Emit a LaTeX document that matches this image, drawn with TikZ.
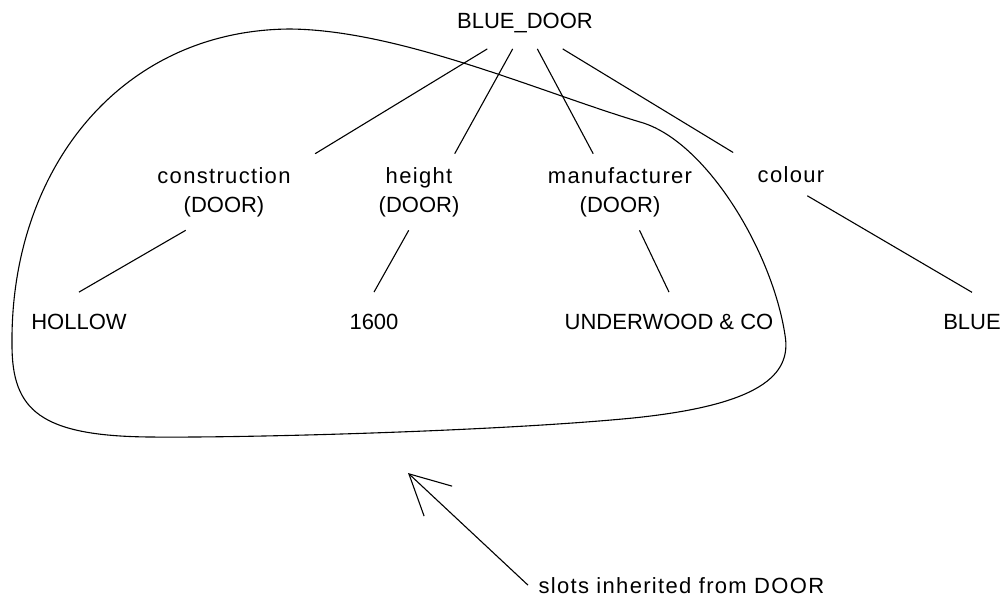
\documentclass[tikz,border=0pt]{standalone}
\usepackage{fontspec}
\setmainfont{Liberation Sans}
\newfontfamily\widefont[LetterSpace=6]{Liberation Sans}
\usetikzlibrary{arrows.meta}

\begin{document}
\begin{tikzpicture}[x=1pt,y=-1pt,line width=1.1pt,font=\fontsize{22}{29}\selectfont]
    %
    % `frame' is the frame name at the top.
    % `slot' is used for the slot names (with the frame they come from).
    % `value' is used for the slot fillers.
    % `note' is used for the comment under the picture.
    \tikzstyle{frame} = [inner sep=16pt,anchor=base]
    \tikzstyle{slot} = [align=center,inner xsep=24pt,inner ysep=13pt]
    \tikzstyle{value} = [inner sep=21pt,anchor=base]
    \tikzstyle{note} = [inner sep=10pt,anchor=base west,font=\widefont\fontsize{22}{29}\selectfont]
    %
    \useasboundingbox (0,0) rectangle (1005,598);
    %
    % Frame
    \node[frame] (bluedoor) at (525,28) {BLUE\_DOOR};
    %
    % Slots
    \node[slot] (construction) at (224,192) {{\widefont construction}\\(DOOR)};
    \node[slot] (height) at (419,192) {{\widefont height}\\(DOOR)};
    \node[slot] (manufacturer) at (620,192) {{\widefont manufacturer}\\(DOOR)};
    \node[slot,anchor=base] (colour) at (791,182) {\widefont colour};
    \draw (bluedoor.215) -- (construction.north east);
    \draw (bluedoor.245) -- (height.47);
    \draw (bluedoor.295) -- (manufacturer.125);
    \draw (bluedoor.325) -- (colour.north west);
    %
    % Values
    \node[value] (hollow) at (79,329) {HOLLOW};
    \node[value] (h1600) at (374,329) {1600};
    \node[value] (underwood) at (669,329) {UNDERWOOD \& CO};
    \node[value] (blue) at (972,329) {BLUE};
    \draw (construction.225) -- (hollow.north);
    \draw (height.255) -- (h1600.north);
    \draw (manufacturer.297) -- (underwood.north);
    \draw (colour.-53) -- (blue.north);
    %
    % Inherited slots
    \draw (12,345) .. controls (10,170) and (120,30) .. (290,29)
        .. controls (400,30) and (540,92) .. (640,122)
        .. controls (705,140) and (772,250) .. (785,335)
        .. controls (792,375) and (760,405) .. (633,418)
        .. controls (500,431) and (250,438) .. (150,437)
        .. controls (40,436) and (12,410) .. (12,345) -- cycle;
    \coordinate (tip) at (408,473);
    \node[note] (inherited) at (528,593) {slots inherited from DOOR};
    \draw[-{Straight Barb[length=40pt,width=41pt]}] (inherited.west) -- (tip);
\end{tikzpicture}
\end{document}
